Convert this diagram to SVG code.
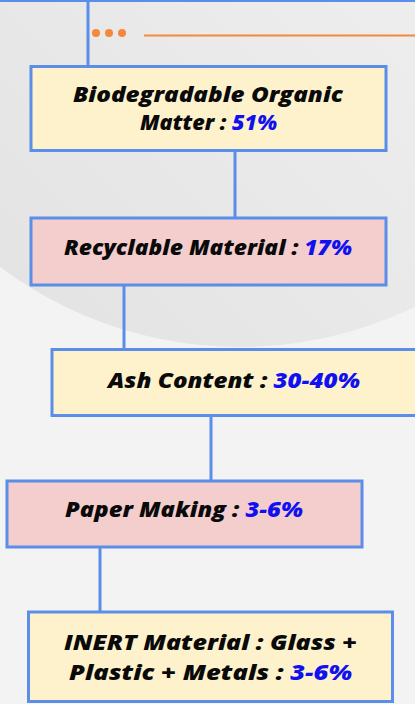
<svg xmlns="http://www.w3.org/2000/svg" width="415" height="704" viewBox="0 0 415 704">
<defs>
<linearGradient id="bgc" x1="0" y1="1" x2="1" y2="0">
<stop offset="0" stop-color="#e0e0e0"/>
<stop offset="0.5" stop-color="#ececec"/>
<stop offset="1" stop-color="#f5f5f5"/>
</linearGradient>
<style>
.box{stroke:#5a8ee9;stroke-width:3}
.yel{fill:#fef2cc}
.pink{fill:#f4cdcd}
.lbl{font-family:"Open Sans","Liberation Sans",sans-serif;font-weight:800;font-style:italic;font-size:20.5px;fill:#0a0a0a;text-anchor:middle}
.num{fill:#1010f0}
.con{stroke:#5a8ee9;stroke-width:3;fill:none}
</style>
</defs>
<rect x="0" y="0" width="415" height="704" fill="#f3f3f3"/>
<circle cx="240" cy="-53" r="400" fill="url(#bgc)"/>
<g id="header">
<line x1="0" y1="0.5" x2="415" y2="0.5" stroke="#5a8ee9" stroke-width="3"/>
<circle cx="96" cy="33" r="4" fill="#f5883a"/>
<circle cx="109" cy="33" r="4" fill="#f5883a"/>
<circle cx="122" cy="33" r="4" fill="#f5883a"/>
<line x1="144" y1="35.5" x2="415" y2="35.5" stroke="#f5883a" stroke-width="2"/>
</g>
<g id="connectors">
<line class="con" x1="88" y1="0" x2="88" y2="66"/>
<line class="con" x1="235" y1="151" x2="235" y2="218"/>
<line class="con" x1="124" y1="285" x2="124" y2="349"/>
<line class="con" x1="211" y1="416" x2="211" y2="481"/>
<line class="con" x1="100" y1="547" x2="100" y2="612"/>
</g>
<g id="n1">
<rect class="box yel" x="31" y="66.5" width="355" height="84"/>
<text class="lbl" x="208" y="102" textLength="270" lengthAdjust="spacingAndGlyphs">Biodegradable Organic</text>
<text class="lbl" x="208.5" y="130" textLength="137" lengthAdjust="spacingAndGlyphs">Matter : <tspan class="num">51%</tspan></text>
</g>
<g id="n2">
<rect class="box pink" x="31" y="218" width="355" height="67"/>
<text class="lbl" x="208" y="255" textLength="288" lengthAdjust="spacingAndGlyphs">Recyclable Material : <tspan class="num">17%</tspan></text>
</g>
<g id="n3">
<rect class="box yel" x="52" y="349.5" width="370" height="66"/>
<text class="lbl" x="234" y="388" textLength="252" lengthAdjust="spacingAndGlyphs">Ash Content : <tspan class="num">30-40%</tspan></text>
</g>
<g id="n4">
<rect class="box pink" x="7" y="481" width="355" height="66"/>
<text class="lbl" x="184" y="517" textLength="238" lengthAdjust="spacingAndGlyphs">Paper Making : <tspan class="num">3-6%</tspan></text>
</g>
<g id="n5">
<rect class="box yel" x="28.5" y="612" width="364" height="89.5"/>
<text class="lbl" x="210.5" y="650" textLength="293" lengthAdjust="spacingAndGlyphs">INERT Material : Glass +</text>
<text class="lbl" x="210.5" y="680" textLength="283" lengthAdjust="spacingAndGlyphs">Plastic + Metals : <tspan class="num">3-6%</tspan></text>
</g>
</svg>
